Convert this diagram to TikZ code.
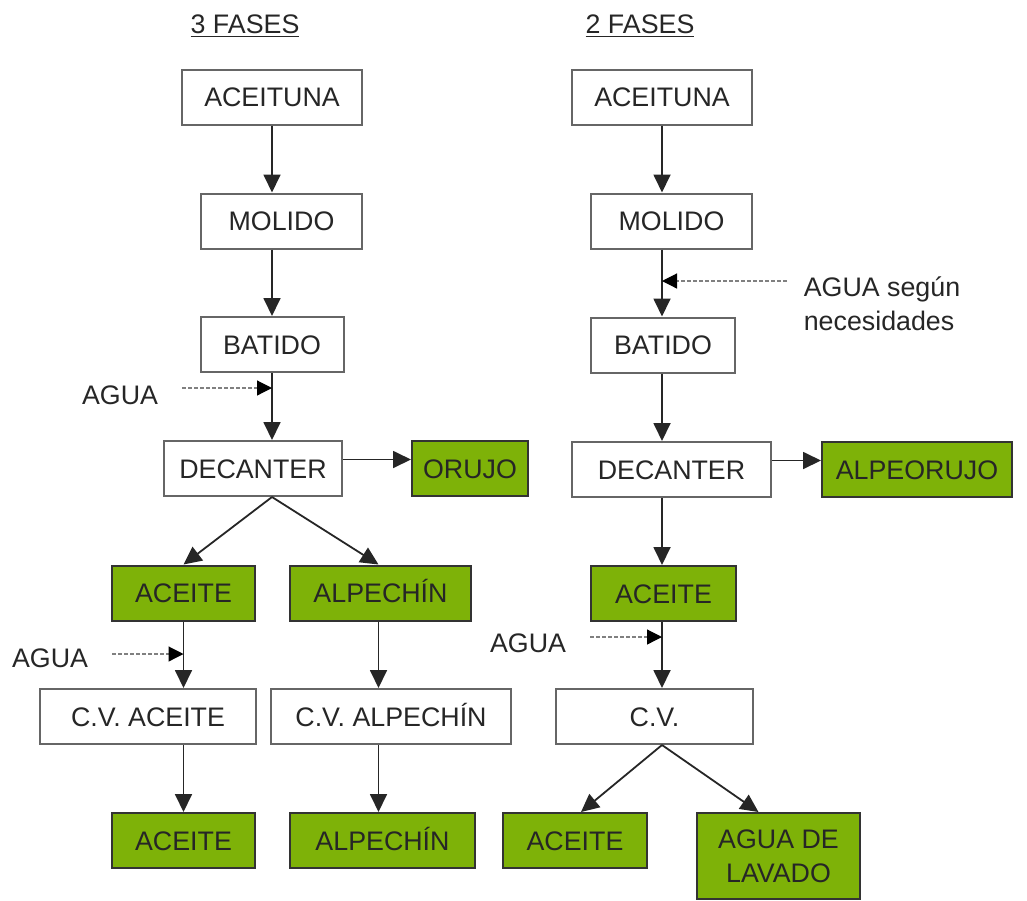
\documentclass[tikz,border=0pt]{standalone}
\usepackage{fontspec}
\setmainfont{Liberation Sans}
\usetikzlibrary{arrows.meta}
\definecolor{olive}{RGB}{126,178,8}
\tikzstyle{whitebox}=[rectangle,draw=black!60,fill=white,line width=1pt,
                      inner sep=0pt,minimum height=27.5pt,
                      text height=9.6pt,text depth=0pt]
\tikzstyle{greenbox}=[rectangle,draw=black!80,fill=olive,line width=1pt,
                      inner sep=0pt,minimum height=27.5pt,
                      text height=9.6pt,text depth=0pt]
\tikzstyle{flow}=[-{Triangle[length=9pt,width=8.5pt]},line width=0.9pt,black!85]
\tikzstyle{water}=[-{Triangle[length=7.5pt,width=7.5pt,color=black]},gray,
                   line width=0.6pt,dash pattern=on 2pt off 1pt]

\begin{document}
\begin{tikzpicture}[x=0.5pt,y=-0.5pt,text=black!85,
                    font=\fontsize{13.4}{17}\selectfont]
    \useasboundingbox (0,0) rectangle (1027,900);
    \node (t1) at (245, 26) {\underline{3 FASES}};
    \node (t2) at (640, 26) {\underline{2 FASES}};
    \node (l1) at (272, 97) [whitebox, minimum width=90pt]{ACEITUNA};
    \node (l2) at (281.5, 221) [whitebox, minimum width=80.5pt]{MOLIDO};
    \node (l3) at (272, 344.5) [whitebox, minimum width=71.5pt]{BATIDO};
    \node (l4) at (253, 468.5) [whitebox, minimum width=89pt]{DECANTER};
    \node (l5) at (470, 468.5) [greenbox, minimum width=58pt]{ORUJO};
    \node (l6) at (183.5, 593) [greenbox, minimum width=71.5pt]{ACEITE};
    \node (l7) at (380.5, 593) [greenbox, minimum width=90.5pt]{ALPECHÍN};
    \node (l8) at (148, 716.5) [whitebox, minimum width=108pt]{C.V. ACEITE};
    \node (l9) at (391, 716.5) [whitebox, minimum width=120pt]{C.V. ALPECHÍN};
    \node (l10) at (183.5, 840.5) [greenbox, minimum width=71.5pt]{ACEITE};
    \node (l11) at (382.5, 840.5) [greenbox, minimum width=92.5pt]{ALPECHÍN};
    \node (r1) at (662, 97) [whitebox, minimum width=90pt]{ACEITUNA};
    \node (r2) at (671.5, 221) [whitebox, minimum width=80.5pt]{MOLIDO};
    \node (r3) at (663, 345) [whitebox, minimum width=72pt]{BATIDO};
    \node (r4) at (671.5, 469.5) [whitebox, minimum width=99.5pt]{DECANTER};
    \node (r5) at (917, 469.5) [greenbox, minimum width=95pt]{ALPEORUJO};
    \node (r6) at (663.5, 593.5) [greenbox, minimum width=72.5pt]{ACEITE};
    \node (r7) at (654.5, 716.5) [whitebox, minimum width=98.5pt]{C.V.};
    \node (r8) at (575, 840.5) [greenbox, minimum width=72pt]{ACEITE};
    \node (r9) at (778.5, 856) [greenbox, minimum width=81.5pt, text height=,
                                text depth=, minimum height=43pt,
                                align=center]{AGUA DE\\LAVADO};
    \node (n1) at (120, 395) {AGUA};
    \node (n2) at (50, 658) {AGUA};
    \node (n3) at (528, 643) {AGUA};
    \node (n4) at (882, 304) [align=left]{AGUA según\\necesidades};
    \coordinate (w1) at (182, 388);
    \coordinate (w2) at (112, 654);
    \coordinate (w3) at (787, 281);
    \coordinate (w4) at (590, 637);
    \draw[flow] (l1.south) -- (l1.south |- l2.north);
    \draw[flow] (l1.south |- l2.south) -- (l3.north);
    \draw[flow] (l3.south) -- (l3.south |- l4.north);
    \draw[flow] ([yshift=4.5pt]l4.east) -- ([yshift=4.5pt]l5.west);
    \draw[flow] (l3.south |- l4.south) -- (l6.north);
    \draw[flow] (l3.south |- l4.south) -- ([xshift=-1pt]l7.north);
    \draw[flow] (l6.south) -- (l6.south |- l8.north);
    \draw[flow] (l6.south |- l8.south) -- (l10.north);
    \draw[flow] ([xshift=-1pt]l7.south) -- ([xshift=-1pt]l7.south |- l9.north);
    \draw[flow] ([xshift=-1pt]l7.south |- l9.south) -- ([xshift=-1pt]l7.south |- l11.north);
    \draw[water] (w1) -- (w1 -| l3.south);
    \draw[water] (w2) -- (w2 -| l6.south);
    \draw[flow] (r1.south) -- (r1.south |- r2.north);
    \draw[flow] (r1.south |- r2.south) -- (r1.south |- r3.north);
    \draw[flow] (r1.south |- r3.south) -- (r1.south |- r4.north);
    \draw[flow] ([yshift=4.5pt]r4.east) -- ([yshift=4.5pt]r5.west);
    \draw[flow] (r1.south |- r4.south) -- (r1.south |- r6.north);
    \draw[flow] (r1.south |- r6.south) -- (r1.south |- r7.north);
    \draw[flow] (r1.south |- r7.south) -- ([xshift=3pt]r8.north);
    \draw[flow] (r1.south |- r7.south) -- ([xshift=-10pt]r9.north);
    \draw[water] (w3) -- (w3 -| r1.south);
    \draw[water] (w4) -- (w4 -| r1.south);
\end{tikzpicture}
\end{document}
